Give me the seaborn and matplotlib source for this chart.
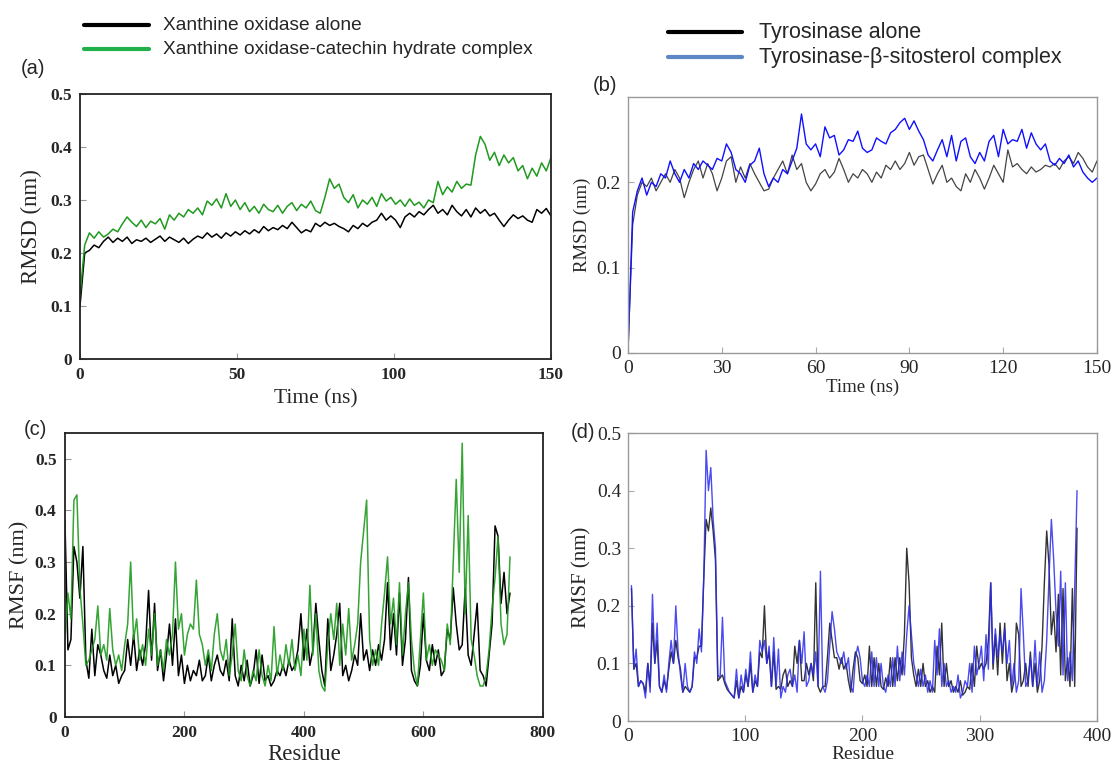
import numpy as np
import seaborn as sns
import matplotlib
matplotlib.use("Agg")
import matplotlib.pyplot as plt
from matplotlib.lines import Line2D

# RMSD (a), in nm x 1000, passo 1.5 ns
rmsd_xo_alone = [100, 200, 205, 215, 210, 222, 230, 220, 228, 222, 230, 218, 225, 222, 228, 220,
                 226, 232, 222, 230, 225, 220, 228, 218, 226, 232, 228, 238, 230, 236, 228, 238,
                 232, 240, 234, 242, 236, 244, 238, 250, 242, 248, 244, 252, 246, 258, 248, 238,
                 244, 240, 256, 250, 258, 252, 256, 250, 246, 240, 252, 246, 256, 250, 258, 262,
                 275, 262, 270, 262, 248, 268, 275, 268, 278, 272, 282, 290, 275, 282, 272, 290,
                 278, 270, 282, 268, 285, 275, 282, 270, 275, 262, 250, 262, 272, 265, 270, 262,
                 258, 282, 275, 284, 270]
rmsd_xo_catechin = [120, 215, 238, 228, 240, 230, 236, 245, 240, 255, 268, 258, 250, 262, 248, 260,
                    255, 265, 245, 272, 262, 275, 268, 282, 275, 285, 272, 298, 290, 302, 285, 312,
                    288, 300, 282, 295, 278, 288, 275, 292, 282, 278, 290, 275, 288, 295, 280, 292,
                    285, 298, 280, 275, 305, 340, 322, 330, 305, 295, 310, 285, 300, 292, 305, 288,
                    312, 298, 305, 292, 300, 288, 302, 290, 296, 285, 300, 295, 335, 310, 325, 315,
                    335, 322, 330, 328, 385, 420, 405, 375, 390, 365, 385, 370, 380, 355, 365, 340,
                    360, 345, 370, 355, 380]

# RMSD (b)
rmsd_tyr_alone = [0, 150, 185, 200, 195, 205, 190, 200, 210, 200, 215, 205, 182, 200, 215, 225,
                  205, 222, 210, 190, 205, 225, 230, 200, 218, 205, 222, 210, 200, 190, 192, 205,
                  215, 225, 210, 232, 215, 222, 200, 190, 198, 210, 215, 205, 212, 228, 215, 200,
                  210, 205, 215, 210, 200, 212, 205, 220, 215, 225, 215, 222, 235, 220, 230, 232,
                  215, 198, 210, 220, 200, 205, 195, 190, 210, 200, 215, 205, 192, 205, 220, 210,
                  200, 238, 218, 222, 215, 210, 218, 212, 215, 220, 218, 222, 215, 225, 230, 222,
                  235, 228, 218, 212, 225]
rmsd_tyr_sito = [0, 165, 190, 205, 185, 200, 195, 210, 205, 225, 210, 200, 215, 205, 222, 215,
                 225, 220, 215, 228, 225, 245, 235, 215, 210, 200, 220, 225, 240, 210, 195, 205,
                 200, 215, 210, 225, 240, 280, 245, 238, 245, 230, 265, 252, 255, 232, 238, 250,
                 248, 260, 240, 235, 238, 252, 248, 245, 258, 262, 270, 275, 262, 272, 260, 250,
                 232, 225, 238, 250, 230, 255, 225, 248, 252, 230, 222, 235, 225, 248, 255, 230,
                 262, 245, 250, 248, 262, 240, 258, 245, 238, 245, 225, 220, 228, 222, 232, 218,
                 225, 212, 205, 200, 205]

# RMSF (c) - passo 5 residui
rmsf_xo_alone = [380, 130, 150, 330, 300, 230, 330, 110, 75, 170, 80, 140, 120, 90, 75, 120,
                 80, 100, 65, 80, 90, 150, 100, 160, 90, 130, 100, 140, 245, 110, 220, 90,
                 130, 70, 120, 180, 100, 190, 80, 120, 65, 100, 70, 90, 80, 110, 70, 80,
                 120, 70, 100, 120, 90, 80, 110, 70, 190, 80, 60, 100, 70, 110, 60, 80,
                 130, 65, 120, 70, 80, 60, 70, 90, 80, 100, 80, 110, 90, 100, 130, 200,
                 110, 170, 100, 130, 220, 150, 90, 60, 190, 90, 120, 160, 220, 80, 100, 70,
                 90, 120, 100, 200, 110, 130, 90, 130, 100, 140, 110, 150, 260, 130, 200, 120,
                 240, 100, 150, 270, 90, 70, 60, 100, 200, 110, 90, 140, 100, 130, 80, 90,
                 170, 150, 250, 180, 130, 140, 250, 120, 100, 160, 220, 90, 80, 60, 120, 180,
                 370, 350, 220, 280, 200, 240]
rmsf_xo_catechin = [150, 240, 190, 420, 430, 250, 180, 100, 110, 130, 150, 215, 120, 140, 110, 210,
                    130, 100, 120, 90, 140, 180, 300, 150, 190, 110, 140, 100, 170, 120, 200, 100,
                    130, 90, 150, 120, 160, 300, 170, 200, 120, 160, 180, 170, 265, 160, 140, 100,
                    130, 90, 160, 200, 130, 110, 150, 80, 120, 180, 90, 70, 130, 80, 60, 90,
                    70, 130, 80, 60, 100, 70, 175, 80, 120, 90, 140, 100, 150, 90, 120, 80,
                    170, 110, 255, 120, 200, 90, 60, 50, 140, 200, 150, 220, 100, 180, 120, 210,
                    110, 140, 180, 300, 360, 420, 150, 100, 130, 100, 180, 240, 310, 180, 230, 140,
                    260, 120, 200, 260, 150, 90, 60, 150, 240, 110, 140, 100, 130, 120, 110, 90,
                    180, 140, 300, 460, 280, 530, 200, 390, 150, 120, 80, 60, 60, 80, 130, 210,
                    270, 350, 180, 140, 160, 310]

# RMSF (d) - passo 2 residui, dal residuo 3
rmsf_tyr_alone = [230, 90, 100, 60, 70, 65, 50, 100, 60, 170, 100, 140, 60, 50, 70, 55,
                  90, 120, 100, 140, 110, 90, 50, 60, 55, 50, 60, 110, 110, 130, 130, 250,
                  350, 330, 370, 330, 280, 70, 75, 80, 65, 55, 50, 45, 40, 70, 40, 60,
                  50, 80, 60, 100, 50, 70, 60, 120, 110, 200, 100, 120, 60, 120, 55, 60,
                  55, 80, 90, 60, 70, 60, 130, 100, 140, 70, 70, 100, 80, 100, 70, 240,
                  60, 50, 60, 60, 110, 170, 140, 110, 110, 90, 110, 90, 100, 70, 50, 90,
                  120, 110, 70, 65, 80, 60, 130, 60, 110, 60, 100, 60, 55, 75, 60, 110,
                  60, 110, 70, 110, 80, 150, 300, 240, 110, 80, 60, 90, 60, 100, 60, 70,
                  50, 60, 50, 130, 80, 170, 60, 100, 60, 70, 50, 60, 50, 70, 45, 50,
                  60, 55, 100, 60, 130, 90, 100, 90, 100, 140, 240, 90, 150, 80, 170, 100,
                  170, 70, 100, 50, 70, 170, 150, 60, 70, 100, 60, 120, 60, 100, 50, 70,
                  130, 240, 330, 270, 150, 190, 120, 220, 80, 230, 70, 110, 60, 230, 60, 335]
rmsf_tyr_sito = [235, 90, 125, 60, 70, 65, 40, 100, 50, 220, 100, 170, 60, 50, 80, 50,
                 100, 140, 100, 200, 120, 80, 50, 100, 60, 50, 60, 120, 100, 160, 120, 250,
                 470, 400, 440, 350, 300, 80, 75, 180, 70, 60, 50, 45, 40, 90, 40, 80,
                 50, 90, 60, 120, 50, 80, 60, 140, 120, 140, 100, 130, 60, 145, 60, 125,
                 40, 60, 50, 80, 90, 60, 80, 50, 140, 100, 155, 60, 70, 100, 80, 120,
                 60, 260, 60, 50, 70, 130, 190, 160, 120, 110, 100, 120, 90, 110, 60, 50,
                 110, 130, 110, 70, 60, 80, 60, 120, 60, 110, 60, 100, 60, 50, 80, 60,
                 110, 60, 130, 70, 120, 80, 150, 200, 150, 100, 80, 60, 90, 60, 80, 50,
                 70, 50, 140, 80, 160, 60, 100, 60, 70, 50, 60, 50, 80, 40, 50, 70,
                 60, 100, 50, 130, 80, 100, 130, 70, 150, 90, 240, 100, 160, 110, 150, 120,
                 160, 100, 140, 60, 100, 50, 70, 230, 150, 60, 70, 110, 60, 140, 60, 120,
                 50, 70, 140, 250, 350, 280, 190, 130, 260, 80, 240, 70, 120, 70, 230, 400]

# scala in nm
def nm(v):
    return np.array(v) / 1000.0

t_a1 = np.linspace(0, 150, len(rmsd_xo_alone))
t_a2 = np.linspace(0, 150, len(rmsd_xo_catechin))
t_b1 = np.linspace(0, 150, len(rmsd_tyr_alone))
t_b2 = np.linspace(0, 150, len(rmsd_tyr_sito))
res_c1 = np.linspace(0, 745, len(rmsf_xo_alone))
res_c2 = np.linspace(0, 745, len(rmsf_xo_catechin))
res_d1 = np.linspace(3, 383, len(rmsf_tyr_alone))
res_d2 = np.linspace(3, 383, len(rmsf_tyr_sito))

sns.set_style("ticks")
plt.rcParams['font.family'] = ['Liberation Serif', 'DejaVu Serif']

fig = plt.figure(figsize=(11.14, 7.66), dpi=100)

ax_a = fig.add_axes([0.0718, 0.5313, 0.4228, 0.346])
ax_b = fig.add_axes([0.5637, 0.5392, 0.4210, 0.3342])
ax_c = fig.add_axes([0.0583, 0.0640, 0.4290, 0.3708])
ax_d = fig.add_axes([0.5637, 0.0587, 0.4210, 0.3760])

green = "#1f9a1f"
blue = "#1010ff"

# (a)
sns.lineplot(x=t_a1, y=nm(rmsd_xo_alone), ax=ax_a, color="black", lw=1.1)
sns.lineplot(x=t_a2, y=nm(rmsd_xo_catechin), ax=ax_a, color=green, lw=1.1)
ax_a.set_xlim(0, 150)
ax_a.set_ylim(0, 0.5)
ax_a.set_xticks([0, 50, 100, 150])
ax_a.set_yticks([0, 0.1, 0.2, 0.3, 0.4, 0.5])
ax_a.set_yticklabels(["0", "0.1", "0.2", "0.3", "0.4", "0.5"])
ax_a.set_xlabel("Time (ns)", fontsize=15.5, labelpad=4)
ax_a.set_ylabel("RMSD (nm)", fontsize=16.5, labelpad=6)

# (b)
sns.lineplot(x=t_b1, y=nm(rmsd_tyr_alone), ax=ax_b, color="#444444", lw=0.9)
sns.lineplot(x=t_b2, y=nm(rmsd_tyr_sito), ax=ax_b, color=blue, lw=1.0)
ax_b.set_xlim(0, 150)
ax_b.set_ylim(0, 0.3)
ax_b.set_xticks([0, 30, 60, 90, 120, 150])
ax_b.set_yticks([0, 0.1, 0.2])
ax_b.set_yticklabels(["0", "0.1", "0.2"])
ax_b.set_xlabel("Time (ns)", fontsize=13.5, labelpad=1)
ax_b.set_ylabel("RMSD (nm)", fontsize=13.5, labelpad=4)

# (c)
sns.lineplot(x=res_c1, y=nm(rmsf_xo_alone), ax=ax_c, color="black", lw=1.1)
sns.lineplot(x=res_c2, y=nm(rmsf_xo_catechin), ax=ax_c, color=green, lw=1.1, alpha=0.9)
ax_c.set_xlim(0, 800)
ax_c.set_ylim(0, 0.55)
ax_c.set_xticks([0, 200, 400, 600, 800])
ax_c.set_yticks([0, 0.1, 0.2, 0.3, 0.4, 0.5])
ax_c.set_yticklabels(["0", "0.1", "0.2", "0.3", "0.4", "0.5"])
ax_c.set_xlabel("Residue", fontsize=16.5, labelpad=2)
ax_c.set_ylabel("RMSF (nm)", fontsize=16, labelpad=4)

# (d)
sns.lineplot(x=res_d1, y=nm(rmsf_tyr_alone), ax=ax_d, color="#333333", lw=1.0)
sns.lineplot(x=res_d2, y=nm(rmsf_tyr_sito), ax=ax_d, color="#2a2aee", lw=1.0, alpha=0.85)
ax_d.set_xlim(0, 400)
ax_d.set_ylim(0, 0.5)
ax_d.set_xticks([0, 100, 200, 300, 400])
ax_d.set_yticks([0, 0.1, 0.2, 0.3, 0.4, 0.5])
ax_d.set_yticklabels(["0", "0.1", "0.2", "0.3", "0.4", "0.5"])
ax_d.set_xlabel("Residue", fontsize=14, labelpad=1)
ax_d.set_ylabel("RMSF (nm)", fontsize=15, labelpad=4)

# stile assi
for ax in (ax_a, ax_c):
    for s in ax.spines.values():
        s.set_color("#222222")
        s.set_linewidth(1.3)
    ax.tick_params(direction="in", length=4, color="#999999", labelsize=12.5, pad=6)
    for lab in ax.get_xticklabels() + ax.get_yticklabels():
        lab.set_fontweight("bold")
for ax in (ax_b, ax_d):
    for s in ax.spines.values():
        s.set_color("#999999")
        s.set_linewidth(1.0)
    ax.tick_params(direction="in", length=4, color="#aaaaaa", labelsize=14, pad=5)

# legende in alto
fig.add_artist(Line2D([0.075, 0.134], [0.967, 0.967], color="black", lw=3, transform=fig.transFigure))
fig.add_artist(Line2D([0.075, 0.134], [0.936, 0.936], color="#22b04a", lw=3, transform=fig.transFigure))
fig.text(0.146, 0.967, "Xanthine oxidase alone", family="Liberation Sans", fontsize=13.8, va="center")
fig.text(0.146, 0.936, "Xanthine oxidase-catechin hydrate complex", family="Liberation Sans",
         fontsize=13.8, va="center")

fig.add_artist(Line2D([0.600, 0.666], [0.958, 0.958], color="black", lw=3, transform=fig.transFigure))
fig.add_artist(Line2D([0.600, 0.666], [0.925, 0.925], color="#5b87c5", lw=3, transform=fig.transFigure))
fig.text(0.681, 0.958, "Tyrosinase alone", family="Liberation Sans", fontsize=15.5, va="center")
fig.text(0.681, 0.925, "Tyrosinase-\u03b2-sitosterol complex", family="Liberation Sans",
         fontsize=15.5, va="center")

# etichette pannelli
fig.text(0.019, 0.911, "(a)", family="Liberation Sans", fontsize=14.5, va="center")
fig.text(0.532, 0.889, "(b)", family="Liberation Sans", fontsize=14.5, va="center")
fig.text(0.021, 0.439, "(c)", family="Liberation Sans", fontsize=14.5, va="center")
fig.text(0.512, 0.436, "(d)", family="Liberation Sans", fontsize=14.5, va="center")

fig.savefig("out.png", dpi=100)
